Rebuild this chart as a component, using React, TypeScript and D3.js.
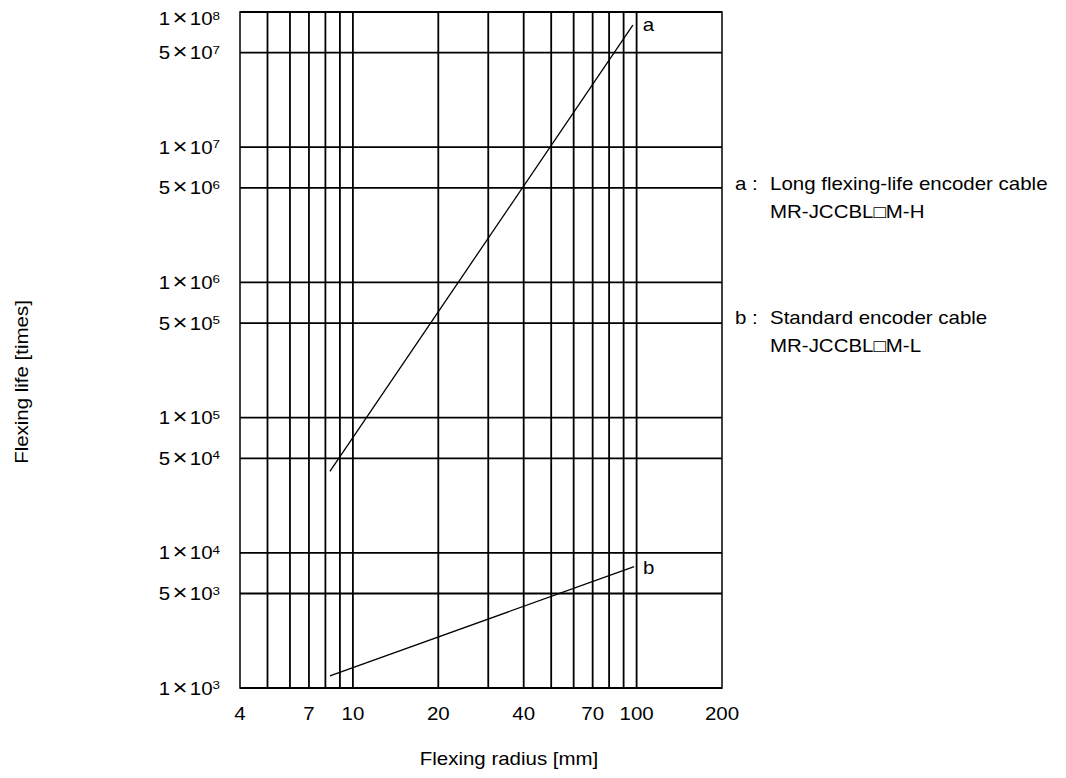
import React from "react";
import * as d3 from "d3";

// ---- data ----
const X_GRID = [5, 6, 7, 8, 9, 10, 20, 30, 40, 50, 60, 70, 80, 90, 100];
const X_TICKS = [4, 7, 10, 20, 40, 70, 100, 200];
const Y_GRID = [1e3, 5e3, 1e4, 5e4, 1e5, 5e5, 1e6, 5e6, 1e7, 5e7, 1e8];
const LINE_A = [
  { r: 8.3, life: 4.0e4 },
  { r: 97, life: 8.0e7 },
];
const LINE_B = [
  { r: 8.3, life: 1.23e3 },
  { r: 98, life: 7.9e3 },
];
const LEGEND = [
  { key: "a", title: "Long flexing-life encoder cable", model: "MR-JCCBL\u25A1M-H" },
  { key: "b", title: "Standard encoder cable", model: "MR-JCCBL\u25A1M-L" },
];
const X_TITLE = "Flexing radius [mm]";
const Y_TITLE = "Flexing life [times]";

// ---- layout ----
const W = 1066;
const H = 778;
const L = 240;
const R = 722;
const T = 12;
const B = 688;
const SX = 1.17;
const FS = 17.5;
const FONT = "'Liberation Sans', Arial, 'DejaVu Sans', sans-serif";

function Txt(props: any) {
  const { x, y, rotate, anchor = "start", size = FS, children } = props;
  return (
    <text
      transform={`translate(${x},${y})${rotate ? ` rotate(${rotate})` : ""} scale(${SX},1)`}
      textAnchor={anchor}
      fontSize={size}
      fontFamily={FONT}
      fill="#000"
    >
      {children}
    </text>
  );
}

export default function App() {
  const x = d3.scaleLog().domain([4, 200]).range([L, R]);
  const y = d3.scaleLog().domain([1e3, 1e8]).range([B, T]);
  const line = d3
    .line<{ r: number; life: number }>()
    .x((d) => x(d.r))
    .y((d) => y(d.life));

  const endA = LINE_A[LINE_A.length - 1];
  const endB = LINE_B[LINE_B.length - 1];

  return (
    <svg
      width={W}
      height={H}
      style={{ position: "absolute", left: 0, top: 0, background: "#fff" }}
    >
      <rect x={0} y={0} width={W} height={H} fill="#fff" />
      {/* vertical grid */}
      {X_GRID.map((v) => (
        <line key={"vx" + v} x1={x(v)} x2={x(v)} y1={T} y2={B} stroke="#000" strokeWidth={1.8} />
      ))}
      {/* horizontal grid */}
      {Y_GRID.map((v) => (
        <line key={"hy" + v} x1={L} x2={R} y1={y(v)} y2={y(v)} stroke="#000" strokeWidth={1.8} />
      ))}
      {/* frame */}
      <rect x={L} y={T} width={R - L} height={B - T} fill="none" stroke="#000" strokeWidth={1.5} />

      {/* data lines */}
      <path d={line(LINE_A) || ""} fill="none" stroke="#000" strokeWidth={1.3} />
      <path d={line(LINE_B) || ""} fill="none" stroke="#000" strokeWidth={1.3} />
      <Txt x={x(endA.r) + 10} y={y(endA.life) + 6}>a</Txt>
      <Txt x={x(endB.r) + 9} y={y(endB.life) + 7}>b</Txt>

      {/* y tick labels */}
      {Y_GRID.map((v) => {
        const exp = Math.floor(Math.log10(v) + 1e-9);
        const mant = Math.round(v / Math.pow(10, exp));
        const cy = Math.max(y(v), T + 6.5);
        return (
          <Txt key={"yl" + v} x={220} y={cy + 6.5} anchor="end">
            <tspan>{mant}</tspan>
            <tspan dx={2} fontSize={22}>{"\u00D7"}</tspan>
            <tspan dx={2}>10</tspan>
            <tspan dy={-5.5} fontSize={11.5}>{exp}</tspan>
          </Txt>
        );
      })}

      {/* x tick labels */}
      {X_TICKS.map((v) => (
        <Txt key={"xl" + v} x={x(v)} y={720} anchor="middle">
          {v}
        </Txt>
      ))}

      {/* axis titles */}
      <Txt x={(L + R) / 2 + 28} y={765} anchor="middle">
        {X_TITLE}
      </Txt>
      <Txt x={28} y={382} rotate={-90} anchor="middle">
        {Y_TITLE}
      </Txt>

      {/* legend */}
      {LEGEND.map((d, i) => {
        const by = i === 0 ? 190 : 324;
        return (
          <g key={d.key}>
            <Txt x={735} y={by}>{d.key + " :"}</Txt>
            <Txt x={770} y={by}>{d.title}</Txt>
            <Txt x={770} y={by + 28}>{d.model}</Txt>
          </g>
        );
      })}
    </svg>
  );
}
